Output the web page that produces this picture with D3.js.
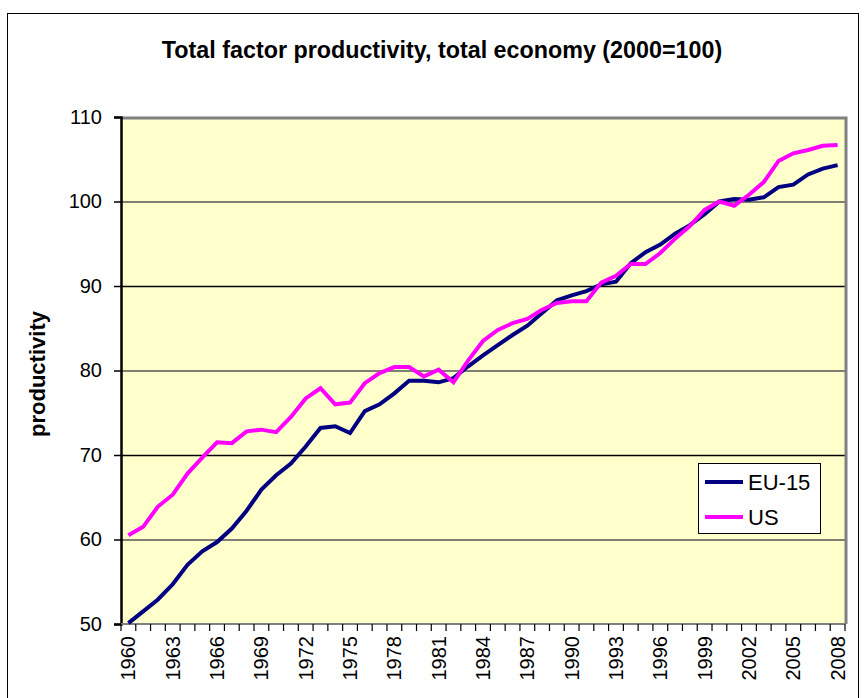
<!DOCTYPE html>
<html>
<head>
<meta charset="utf-8">
<script src="https://cdn.jsdelivr.net/npm/d3@7"></script>
<style>
  body { margin: 0; background: #fff; }
  svg { display: block; font-family: "Liberation Sans", Arial, sans-serif; }
</style>
</head>
<body>
<svg id="viz" width="868" height="698"></svg>
<script>
var width = 868;
var height = 698;

// data
const years = d3.range(1960, 2009);
const eu15 = [50.1, 51.5, 52.9, 54.7, 57.0, 58.6, 59.7, 61.3, 63.4, 65.9,
  67.6, 69.0, 71.0, 73.2, 73.4, 72.6, 75.2, 76.0, 77.3, 78.8,
  78.8, 78.6, 79.1, 80.5, 81.8, 83.0, 84.2, 85.3, 86.8, 88.3,
  88.9, 89.4, 90.2, 90.5, 92.7, 94.0, 94.9, 96.2, 97.2, 98.5,
  100.0, 100.3, 100.2, 100.5, 101.7, 102.0, 103.2, 103.9, 104.3];
const us = [60.5, 61.5, 63.9, 65.3, 67.8, 69.7, 71.5, 71.4, 72.8, 73.0,
  72.7, 74.5, 76.7, 77.9, 76.0, 76.2, 78.5, 79.7, 80.4, 80.4,
  79.3, 80.1, 78.6, 81.2, 83.5, 84.8, 85.6, 86.1, 87.2, 88.0,
  88.2, 88.2, 90.4, 91.2, 92.6, 92.6, 93.9, 95.6, 97.1, 99.0,
  100.0, 99.5, 100.8, 102.3, 104.8, 105.7, 106.1, 106.6, 106.7];
const yTicks = [50, 60, 70, 80, 90, 100, 110];
const xLabels = years.filter(function (d) { return (d - 1960) % 3 === 0; });
const seriesNames = ["EU-15", "US"];
const seriesColors = ["#000080", "#ff00ff"];

let svg = d3.select("#viz");

// outer chart frame
svg.append("rect")
  .attr("x", 7.5).attr("y", 13.5)
  .attr("width", 851).attr("height", 720)
  .attr("fill", "#fff").attr("stroke", "#000").attr("stroke-width", 1);

let plot = {left: 121, right: 845, top: 117, bottom: 624};

let x = d3.scaleBand().domain(years).range([plot.left, plot.right]);
let y = d3.scaleLinear().domain([50, 110]).range([plot.bottom, plot.top]);

// plot area
svg.append("rect")
  .attr("x", plot.left).attr("y", plot.top)
  .attr("width", plot.right - plot.left).attr("height", plot.bottom - plot.top)
  .attr("fill", "#ffffcc");

// gridlines
svg.append("g").selectAll("line")
  .data(yTicks.slice(1, -1))
  .enter().append("line")
  .attr("x1", plot.left).attr("x2", plot.right)
  .attr("y1", function (d) { return y(d) + 0.5; })
  .attr("y2", function (d) { return y(d) + 0.5; })
  .attr("stroke", function (d, i) { return i % 2 ? "#000" : "#555"; })
  .attr("stroke-width", 1.5);

// top and right border (grey)
svg.append("path")
  .attr("d", "M" + plot.left + "," + (plot.top + 1) + "H" + (plot.right + 1) + "V" + plot.bottom)
  .attr("fill", "none").attr("stroke", "#808080").attr("stroke-width", 3);

// y axis
let yAxis = svg.append("g")
  .attr("transform", "translate(" + plot.left + ",0)")
  .call(d3.axisLeft(y).tickValues(yTicks).tickSize(7).tickPadding(12));
yAxis.select(".domain").attr("stroke", "#000").attr("stroke-width", 2.5);
yAxis.selectAll(".tick line").attr("stroke", "#000").attr("stroke-width", 1.5);
yAxis.selectAll("text").attr("font-size", 20).attr("fill", "#000");

// x axis: line, ticks at category boundaries, labels every 3 years
let xg = svg.append("g");
xg.append("line")
  .attr("x1", plot.left).attr("x2", plot.right)
  .attr("y1", plot.bottom).attr("y2", plot.bottom)
  .attr("stroke", "#808080").attr("stroke-width", 2);
let edges = years.map(function (d) { return x(d); }).concat([plot.right]);
xg.selectAll("line.tk")
  .data(edges)
  .enter().append("line")
  .attr("class", "tk")
  .attr("x1", function (d) { return d; }).attr("x2", function (d) { return d; })
  .attr("y1", plot.bottom).attr("y2", plot.bottom + 7)
  .attr("stroke", "#000").attr("stroke-width", 1.2);
xg.selectAll("text")
  .data(xLabels)
  .enter().append("text")
  .attr("transform", function (d) {
    return "translate(" + (x(d) + x.bandwidth() / 2) + "," + (plot.bottom + 12) + ") rotate(-90)";
  })
  .attr("text-anchor", "end")
  .attr("dy", "0.35em")
  .attr("font-size", 20)
  .text(function (d) { return d; });

// series lines
let line = d3.line()
  .x(function (d, i) { return x(years[i]) + x.bandwidth() / 2; })
  .y(function (d) { return y(d); });

[eu15, us].forEach(function (s, i) {
  svg.append("path")
    .datum(s)
    .attr("d", line)
    .attr("fill", "none")
    .attr("stroke", seriesColors[i])
    .attr("stroke-width", 4)
    .attr("stroke-linejoin", "miter");
});

// titles
svg.append("text")
  .attr("x", 442).attr("y", 58)
  .attr("text-anchor", "middle")
  .attr("font-size", 23.3).attr("font-weight", "bold")
  .text("Total factor productivity, total economy (2000=100)");

svg.append("text")
  .attr("transform", "translate(45,374) rotate(-90)")
  .attr("text-anchor", "middle")
  .attr("font-size", 22).attr("font-weight", "bold")
  .text("productivity");

// legend
let legend = svg.append("g").attr("transform", "translate(698,463)");
legend.append("rect")
  .attr("x", 0.5).attr("y", 0.5).attr("width", 122).attr("height", 70)
  .attr("fill", "#fff").attr("stroke", "#000").attr("stroke-width", 1);
seriesNames.forEach(function (name, i) {
  let ly = 19 + i * 35;
  legend.append("line")
    .attr("x1", 7).attr("x2", 45).attr("y1", ly).attr("y2", ly)
    .attr("stroke", seriesColors[i]).attr("stroke-width", 4);
  legend.append("text")
    .attr("x", 50).attr("y", ly).attr("dy", "0.35em")
    .attr("font-size", 22)
    .text(name);
});
</script>
</body>
</html>
